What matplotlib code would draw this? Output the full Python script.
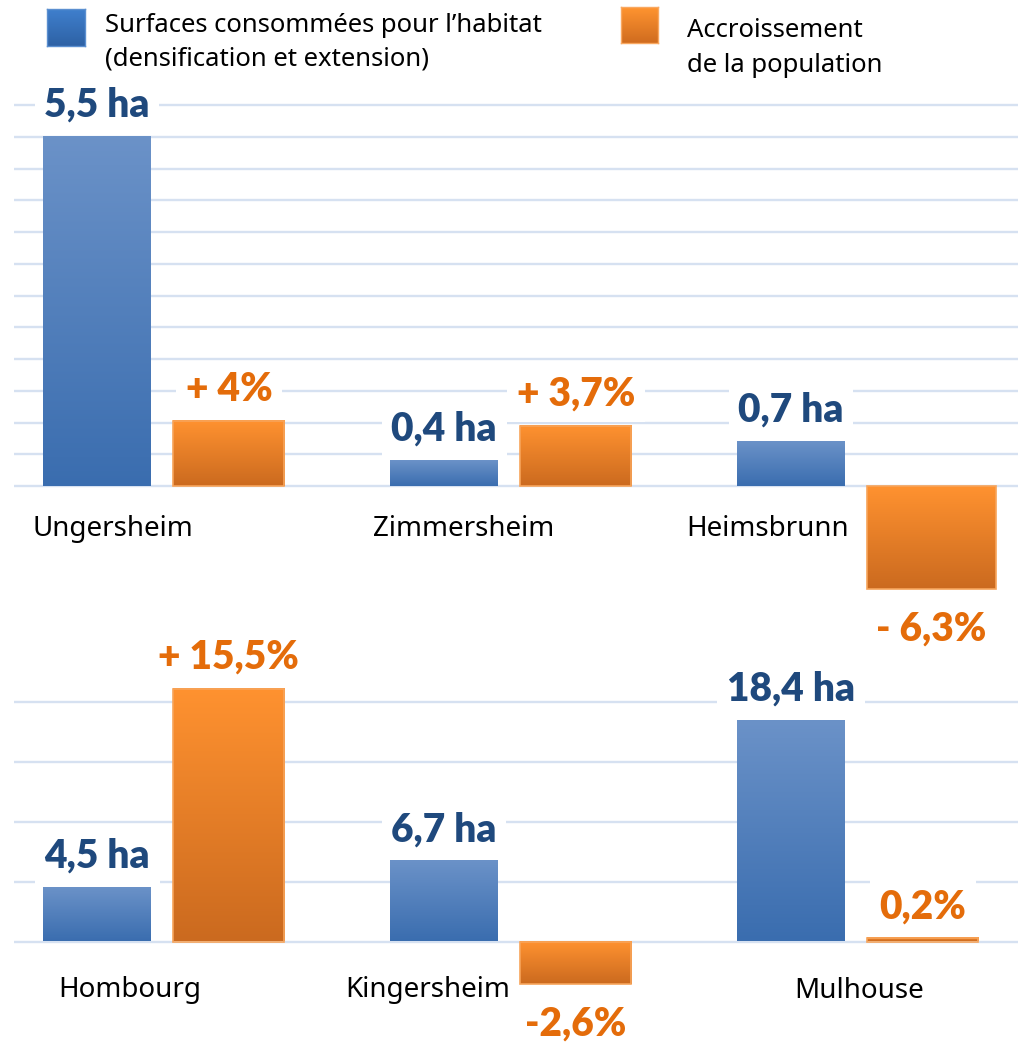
import numpy as np
import matplotlib
matplotlib.use("Agg")
import matplotlib.pyplot as plt
from matplotlib.colors import LinearSegmentedColormap

# ---------------- data ----------------
communes_top = ["Ungersheim", "Zimmersheim", "Heimsbrunn"]
surface_top = [5.5, 0.4, 0.7]                 # ha
population_top = [4.0, 3.7, -6.3]             # %
surface_labels_top = ["5,5 ha", "0,4 ha", "0,7 ha"]
population_labels_top = ["+ 4%", "+ 3,7%", "- 6,3%"]

communes_bottom = ["Hombourg", "Kingersheim", "Mulhouse"]
surface_bottom = [4.5, 6.7, 18.4]             # ha
population_bottom = [15.5, -2.6, 0.2]         # %
surface_labels_bottom = ["4,5 ha", "6,7 ha", "18,4 ha"]
population_labels_bottom = ["+ 15,5%", "-2,6%", "0,2%"]

legend_surface = ["Surfaces consommées pour l’habitat", "(densification et extension)"]
legend_population = ["Accroissement", "de la population"]

# ---------------- style ----------------
W, H = 1018, 1044
BLUE_TOP, BLUE_BOT = "#6b92c8", "#3a6daf"
ORANGE_TOP, ORANGE_BOT = "#ff9230", "#cb6a1f"
ORANGE_EDGE = "#f7a45a"
BLUE_TXT, ORANGE_TXT = "#1f497d", "#e46c0a"
GRID_C = "#d6e1f1"
REG = "Noto Sans"
BOLD = "Lato"
PT = 72 / 100  # points per pixel

fig = plt.figure(figsize=(W / 100, H / 100), dpi=100)


def px_axes(left, top, right, bottom):
    return fig.add_axes([left / W, 1 - bottom / H, (right - left) / W, (bottom - top) / H])


def grad_fill(ax, patch, c_top, c_bot, z):
    x0, w = patch.get_x(), patch.get_width()
    y0, h = patch.get_y(), patch.get_height()
    ylo, yhi = min(y0, y0 + h), max(y0, y0 + h)
    cmap = LinearSegmentedColormap.from_list("g", [c_top, c_bot])
    ax.imshow(np.linspace(0, 1, 256).reshape(-1, 1), cmap=cmap,
              extent=(x0, x0 + w, ylo, yhi), origin="upper",
              aspect="auto", zorder=z, interpolation="bilinear")


def draw_row(top, bottom, zero_px, ha_px, grid_step, grid_max, pct_px,
             names, surf, pop, surf_lab, pop_lab, orange_widths,
             name_dx, name_dy):
    ax = px_axes(14, top, 1018, bottom)
    ax2 = ax.twinx()
    x = np.arange(len(names))
    bars_b = ax.bar(x - 0.19, surf, width=0.31, facecolor="none",
                    edgecolor="none", zorder=3)
    for b in bars_b:
        grad_fill(ax, b, BLUE_TOP, BLUE_BOT, 2)
    bars_o = ax2.bar(x + 0.19 + (np.array(orange_widths) - 0.32) / 2, pop,
                     width=orange_widths, facecolor="none",
                     edgecolor=ORANGE_EDGE, linewidth=1.2, zorder=3)
    for b in bars_o:
        grad_fill(ax2, b, ORANGE_TOP, ORANGE_BOT, 2)

    ax.set_xlim(-(163 - 14) / 347, (1018 - 163) / 347)
    ax.set_ylim(-(bottom - zero_px) / ha_px, (zero_px - top) / ha_px)
    ax2.set_ylim(-(bottom - zero_px) / pct_px, (zero_px - top) / pct_px)

    ax.set_yticks(np.arange(0, grid_max + 1e-9, grid_step))
    ax.grid(axis="y", color=GRID_C, linewidth=1.7)
    ax.set_axisbelow(True)
    for a in (ax, ax2):
        a.set_facecolor("none")
        for s in a.spines.values():
            s.set_visible(False)
        a.tick_params(left=False, right=False, bottom=False,
                      labelleft=False, labelright=False, labelbottom=False)
    ax.set_xticks([])
    ax2.set_yticks([])

    box = dict(boxstyle="square,pad=0.25", fc="white", ec="none")
    for b, lab in zip(bars_b, surf_lab):
        ax2.annotate(lab, xy=(b.get_x() + b.get_width() / 2, b.get_height()),
                     xycoords=ax.transData, xytext=(0, 20 * PT),
                     textcoords="offset points", ha="center", va="baseline",
                     fontsize=28, fontweight="heavy", family=BOLD,
                     color=BLUE_TXT, bbox=box, zorder=6)
    for b, lab in zip(bars_o, pop_lab):
        v = b.get_height()
        off = 20 * PT if v >= 0 else -52 * PT
        ax2.annotate(lab, xy=(b.get_x() + b.get_width() / 2, v),
                     xytext=(0, off), textcoords="offset points",
                     ha="center", va="baseline", fontsize=28,
                     fontweight="heavy", family=BOLD, color=ORANGE_TXT,
                     bbox=box, zorder=6)
    for i, name in enumerate(names):
        ax2.annotate(name, xy=(x[i], 0), xycoords=ax.transData,
                     xytext=(name_dx[i] * PT, -name_dy * PT),
                     textcoords="offset points", ha="center", va="baseline",
                     fontsize=20, family=REG, color="black", zorder=6)
    return ax, ax2


draw_row(80, 660, 486, 63.5, 0.5, 6, 16.3,
         communes_top, surface_top, population_top,
         surface_labels_top, population_labels_top,
         [0.32, 0.32, 0.37], [-50, -46, -89], 50)

draw_row(660, 1044, 941.5, 12.0, 5, 20, 16.3,
         communes_bottom, surface_bottom, population_bottom,
         surface_labels_bottom, population_labels_bottom,
         [0.32, 0.32, 0.32], [-33, -82, 2], 56)

# ---------------- legend ----------------
def legend_square(left, top, right, bottom, c_top, c_bot, edge):
    a = px_axes(left, top, right, bottom)
    cmap = LinearSegmentedColormap.from_list("g", [c_top, c_bot])
    a.imshow(np.linspace(0, 1, 64).reshape(-1, 1), cmap=cmap, aspect="auto")
    a.set_xticks([])
    a.set_yticks([])
    for s in a.spines.values():
        s.set_color(edge)
        s.set_linewidth(1.0)


legend_square(47, 9, 85, 46, "#3f7fcd", "#2e62a5", "#5b8fd0")
legend_square(621, 7, 658, 43, "#ff9430", "#d06c1f", "#f9a860")

fig.text(105 / W, 1 - 32 / H, legend_surface[0], fontsize=18.5, family=REG, va="baseline")
fig.text(105 / W, 1 - 65 / H, legend_surface[1], fontsize=18.5, family=REG, va="baseline")
fig.text(687 / W, 1 - 37 / H, legend_population[0], fontsize=18.5, family=REG, va="baseline")
fig.text(687 / W, 1 - 72 / H, legend_population[1], fontsize=18.5, family=REG, va="baseline")

fig.savefig("out.png", dpi=100)
